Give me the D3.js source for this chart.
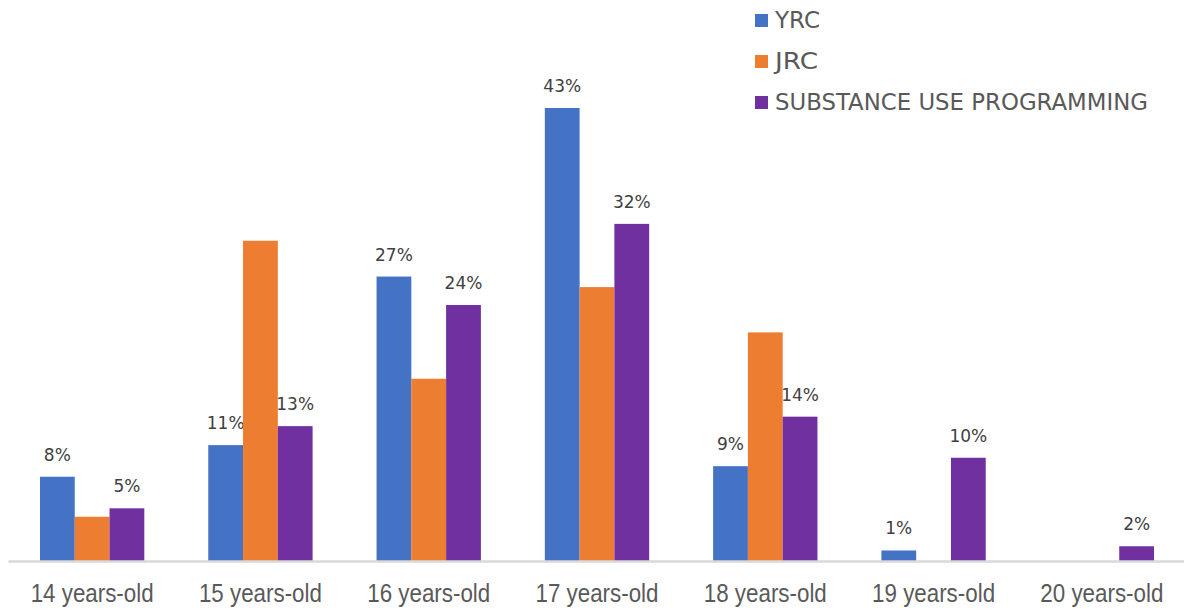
<!DOCTYPE html>
<html>
<head>
<meta charset="utf-8">
<script src="https://cdn.jsdelivr.net/npm/d3@7"></script>
<style>
  body { margin: 0; background: #fff; }
  svg { display: block; }
</style>
</head>
<body>
<svg id="chart" width="1184" height="613"></svg>
<script>
// chart data
const categories = ['14 years-old', '15 years-old', '16 years-old', '17 years-old', '18 years-old', '19 years-old', '20 years-old'];
const seriesNames = ['YRC', 'JRC', 'SUBSTANCE USE PROGRAMMING'];
const yrc = [8, 11, 27, 43, 9, 1, 0];
const jrc = [4.2, 30.4, 17.3, 26, 21.7, 0, 0];
const substance = [5, 12.8, 24.3, 32, 13.7, 9.8, 1.4];
// only these bars carry a value label
const yrcLabels = ['8%', '11%', '27%', '43%', '9%', '1%', ''];
const substanceLabels = ['5%', '13%', '24%', '32%', '14%', '10%', '2%'];
const colors = ['#4472C4', '#ED7D31', '#7030A0'];

const svg = d3.select('#chart');
const margin = { left: 8, right: 0, top: 108, bottom: 52 };
const width = 1186 - margin.left;
const baseY = 561;

const x0 = d3.scaleBand().domain(categories).range([margin.left, margin.left + width]).paddingInner(0.38).paddingOuter(0.19);
const x1 = d3.scaleBand().domain(seriesNames).range([0, x0.bandwidth()]);
const y = d3.scaleLinear().domain([0, 43]).range([baseY, margin.top]);

const allSeries = [yrc, jrc, substance];
const allLabels = [yrcLabels, null, substanceLabels];

allSeries.forEach((vals, si) => {
    const g = svg.append('g');
    g.selectAll('rect')
        .data(vals.map((v, i) => ({ cat: categories[i], v: v })))
        .enter().append('rect')
        .attr('x', d => x0(d.cat) + x1(seriesNames[si]))
        .attr('y', d => y(d.v))
        .attr('width', x1.bandwidth())
        .attr('height', d => baseY - y(d.v))
        .attr('fill', colors[si]);

    if (allLabels[si]) {
        g.selectAll('text')
            .data(vals.map((v, i) => ({ cat: categories[i], v: v, lab: allLabels[si][i] })).filter(d => d.lab))
            .enter().append('text')
            .attr('x', d => x0(d.cat) + x1(seriesNames[si]) + x1.bandwidth() / 2)
            .attr('y', d => y(d.v) - 16)
            .attr('text-anchor', 'middle')
            .attr('font-family', 'DejaVu Sans, sans-serif')
            .attr('font-size', 17)
            .attr('fill', '#404040')
            .text(d => d.lab);
    }
});

// x axis
const xAxis = svg.append('g')
    .attr('transform', `translate(0,${baseY})`)
    .call(d3.axisBottom(x0).tickSize(0).tickPadding(23).tickSizeOuter(0));
xAxis.select('.domain').attr('stroke', '#d9d9d9').attr('stroke-width', 2.5);
xAxis.selectAll('text')
    .attr('font-family', 'Liberation Sans, Arial, sans-serif')
    .attr('font-size', 25)
    .attr('fill', '#595959')
    .attr('textLength', 123)
    .attr('lengthAdjust', 'spacingAndGlyphs');

// legend
const legendWidths = [45, 43, 373];
const legend = svg.append('g').attr('transform', 'translate(755,0)');
seriesNames.forEach((name, i) => {
    const row = legend.append('g').attr('transform', `translate(0,${i * 41})`);
    row.append('rect').attr('x', 0).attr('y', 14).attr('width', 13).attr('height', 13).attr('fill', colors[i]);
    row.append('text')
        .attr('x', 20)
        .attr('y', 28)
        .attr('font-family', 'DejaVu Sans, sans-serif')
        .attr('font-size', 23)
        .attr('fill', '#595959')
        .attr('textLength', legendWidths[i])
        .attr('lengthAdjust', 'spacingAndGlyphs')
        .text(name);
});
</script>
</body>
</html>
